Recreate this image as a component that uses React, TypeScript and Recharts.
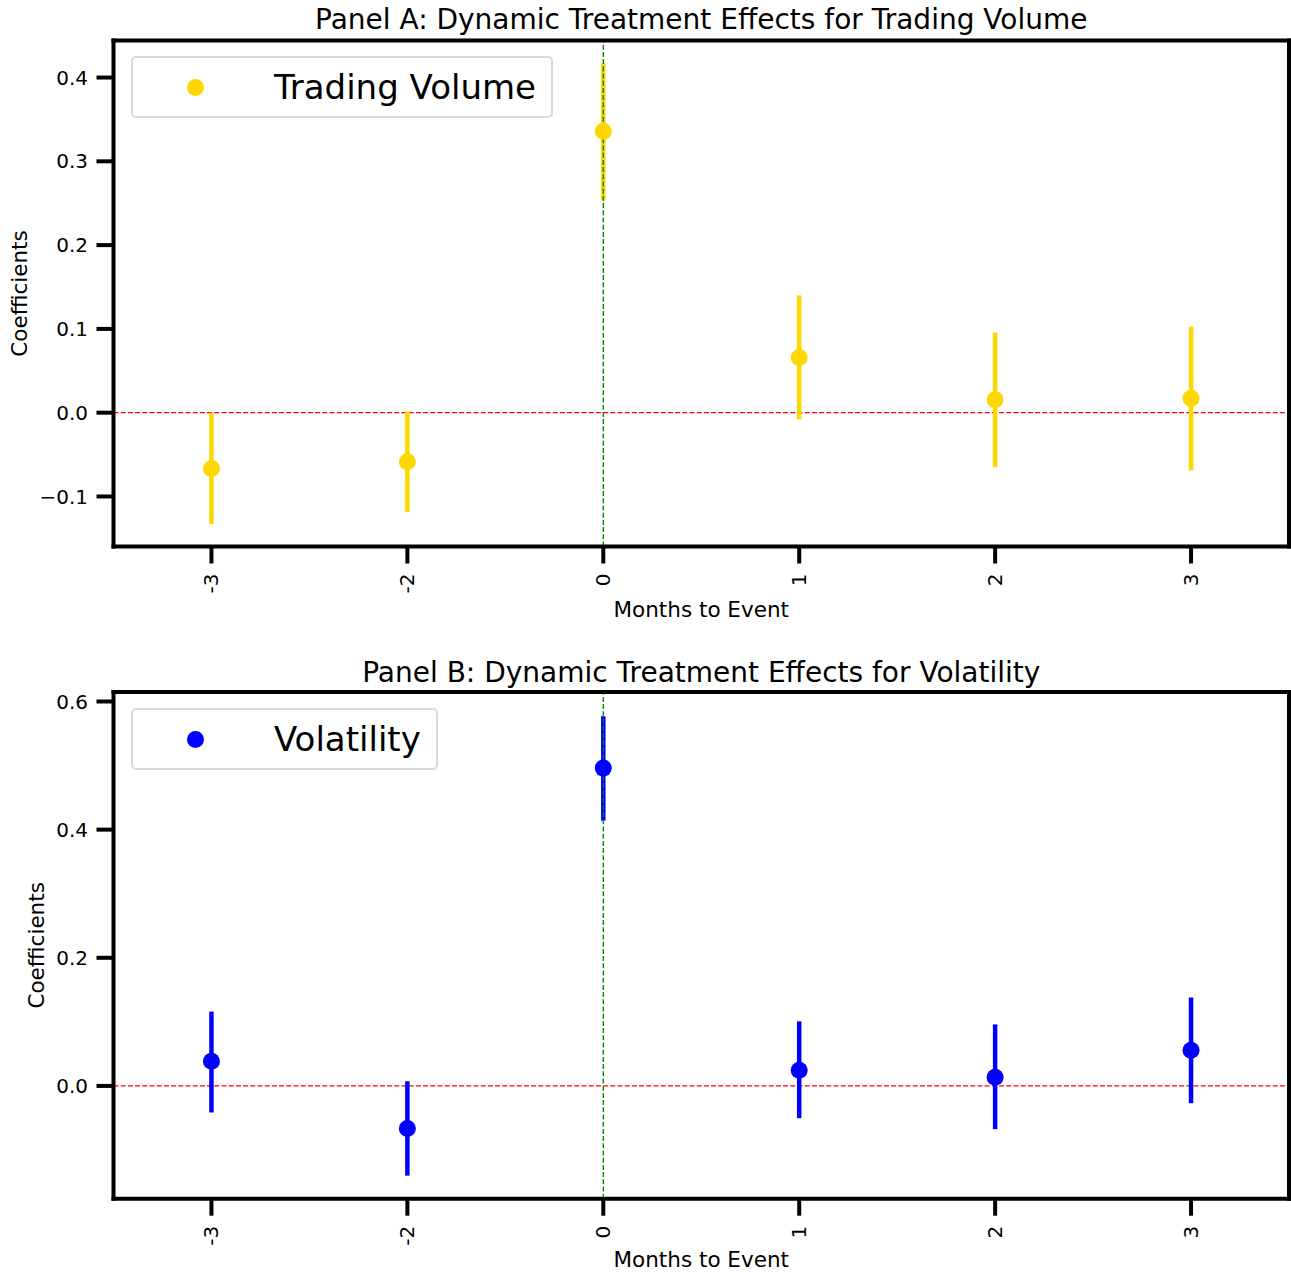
import React from "react";
import {
  ComposedChart,
  Line,
  XAxis,
  YAxis,
  ErrorBar,
  ReferenceLine,
  Legend,
} from "recharts";

const FONT = "'DejaVu Sans', sans-serif";

// months relative to the event (category axis)
const months = ["-3", "-2", "0", "1", "2", "3"];

// Panel A: trading volume
const volumeCoef = [-0.0665, -0.0585, 0.336, 0.066, 0.0155, 0.0171];
const volumeLow = [-0.133, -0.1188, 0.2536, -0.008, -0.065, -0.069];
const volumeHigh = [0.0, 0.0016, 0.417, 0.14, 0.0956, 0.103];
const volumeTicks = [-0.1, 0, 0.1, 0.2, 0.3, 0.4];

// Panel B: volatility
const volatilityCoef = [0.0385, -0.0664, 0.496, 0.0245, 0.0136, 0.0556];
const volatilityLow = [-0.0414, -0.14, 0.414, -0.0503, -0.0674, -0.027];
const volatilityHigh = [0.116, 0.0073, 0.577, 0.1008, 0.096, 0.138];
const volatilityTicks = [0, 0.2, 0.4, 0.6];

const buildRows = (coef: number[], low: number[], high: number[]) =>
  months.map((m, i) => ({
    month: m,
    coef: coef[i],
    err: [coef[i] - low[i], high[i] - coef[i]],
  }));

const fmt = (v: number) => (v < 0 ? "\u2212" : "") + Math.abs(v).toFixed(1);

const spine = { stroke: "#000", strokeWidth: 4, strokeLinecap: "square" };

const XTick = (props: any) => {
  const { x, y, payload } = props;
  return (
    <text
      transform={`translate(${x},${y}) rotate(-90)`}
      textAnchor="end"
      dominantBaseline="central"
      fontSize={20}
      fontFamily={FONT}
      fill="#000"
    >
      {payload.value}
    </text>
  );
};

const TitleLabel = (props: any) => {
  const { viewBox, text, gap } = props;
  return (
    <text
      x={viewBox.x + viewBox.width / 2}
      y={viewBox.y + viewBox.height - gap}
      textAnchor="middle"
      fontSize={28}
      fontFamily={FONT}
      fill="#000"
    >
      {text}
    </text>
  );
};

const XTitle = (props: any) => {
  const { viewBox, down } = props;
  return (
    <text
      x={viewBox.x + viewBox.width / 2}
      y={viewBox.y + down}
      textAnchor="middle"
      fontSize={21.5}
      fontFamily={FONT}
      fill="#000"
    >
      Months to Event
    </text>
  );
};

const YTitle = (props: any) => {
  const { viewBox, cx } = props;
  return (
    <text
      transform={`translate(${cx},${viewBox.y + viewBox.height / 2}) rotate(-90)`}
      textAnchor="middle"
      dominantBaseline="central"
      fontSize={21.5}
      fontFamily={FONT}
      fill="#000"
    >
      Coefficients
    </text>
  );
};

const LegendBox = ({ color, payload }: any) => (
  <div
    style={{
      display: "inline-flex",
      alignItems: "center",
      boxSizing: "border-box",
      height: 62,
      border: "2px solid #d9d9d9",
      borderRadius: 5,
      background: "rgba(255,255,255,0.8)",
      paddingLeft: 53.5,
      paddingRight: 15,
      fontFamily: FONT,
      fontSize: 34,
      lineHeight: 1,
      color: "#000",
    }}
  >
    <span
      style={{
        width: 17,
        height: 17,
        borderRadius: "50%",
        background: color,
        marginRight: 70.5,
        display: "inline-block",
      }}
    />
    <span>{payload && payload[0] ? payload[0].value : ""}</span>
  </div>
);

type PanelProps = {
  title: string;
  name: string;
  color: string;
  coef: number[];
  low: number[];
  high: number[];
  ticks: number[];
  domain: [number, number];
  top: number;
  xAxisHeight: number;
  titleGap: number;
  xTitleDown: number;
  yTitleX: number;
  legendTop: number;
};

const Panel = (p: PanelProps) => {
  const data = buildRows(p.coef, p.low, p.high);
  return (
    <ComposedChart
      width={1291}
      height={636}
      data={data}
      margin={{ top: 0, right: 0, bottom: 0, left: 0 }}
    >
      <XAxis
        dataKey="month"
        type="category"
        scale="band"
        height={p.xAxisHeight}
        tickSize={17}
        tickMargin={10}
        interval={0}
        tick={<XTick />}
        tickLine={{ stroke: "#000", strokeWidth: 4 }}
        axisLine={spine}
        label={<XTitle down={p.xTitleDown} />}
      />
      <XAxis
        xAxisId="top"
        orientation="top"
        dataKey="month"
        type="category"
        scale="band"
        height={p.top}
        tick={false}
        tickLine={false}
        axisLine={spine}
        label={<TitleLabel text={p.title} gap={p.titleGap} />}
      />
      <YAxis
        type="number"
        width={113.5}
        domain={p.domain}
        allowDataOverflow
        ticks={p.ticks}
        tickFormatter={fmt}
        tickSize={17}
        tickMargin={8.5}
        tick={{ fontSize: 20, fontFamily: FONT, fill: "#000" }}
        tickLine={{ stroke: "#000", strokeWidth: 4 }}
        axisLine={spine}
        label={<YTitle cx={p.yTitleX} />}
      />
      <YAxis
        yAxisId="right"
        orientation="right"
        type="number"
        width={2}
        domain={p.domain}
        allowDataOverflow
        tick={false}
        tickLine={false}
        axisLine={spine}
      />
      <ReferenceLine y={0} stroke="#ff0000" strokeWidth={1.3} strokeDasharray="5 2.2" />
      <Line
        dataKey="coef"
        name={p.name}
        stroke="none"
        legendType="circle"
        isAnimationActive={false}
        activeDot={false}
        dot={{ r: 8.5, fill: p.color, stroke: "none", strokeWidth: 0 }}
      >
        <ErrorBar
          dataKey="err"
          direction="y"
          width={0}
          stroke={p.color}
          strokeWidth={4.5}
          isAnimationActive={false}
        />
      </Line>
      {/* invisible copy so the top/right frame axes get a domain */}
      <Line
        dataKey="coef"
        xAxisId="top"
        yAxisId="right"
        stroke="none"
        legendType="none"
        dot={false}
        activeDot={false}
        isAnimationActive={false}
      />
      <ReferenceLine x="0" stroke="#008000" strokeWidth={1.3} strokeDasharray="5 2.2" />
      <Legend
        layout="horizontal"
        verticalAlign="middle"
        align="center"
        wrapperStyle={{ left: 131, top: p.legendTop, width: "auto", lineHeight: 0 }}
        content={<LegendBox color={p.color} />}
      />
    </ComposedChart>
  );
};

export default function App() {
  return (
    <div style={{ position: "absolute", left: 0, top: 0, width: 1291, height: 1272, background: "#fff" }}>
      <Panel
        title="Panel A: Dynamic Treatment Effects for Trading Volume"
        name="Trading Volume"
        color="#ffd700"
        coef={volumeCoef}
        low={volumeLow}
        high={volumeHigh}
        ticks={volumeTicks}
        domain={[-0.1597, 0.4442]}
        top={40.5}
        xAxisHeight={89.5}
        titleGap={12}
        xTitleDown={70}
        yTitleX={19.5}
        legendTop={56}
      />
      <Panel
        title="Panel B: Dynamic Treatment Effects for Volatility"
        name="Volatility"
        color="#0000ff"
        coef={volatilityCoef}
        low={volatilityLow}
        high={volatilityHigh}
        ticks={volatilityTicks}
        domain={[-0.176, 0.6148]}
        top={56}
        xAxisHeight={73.3}
        titleGap={10}
        xTitleDown={68}
        yTitleX={36.7}
        legendTop={72}
      />
    </div>
  );
}
